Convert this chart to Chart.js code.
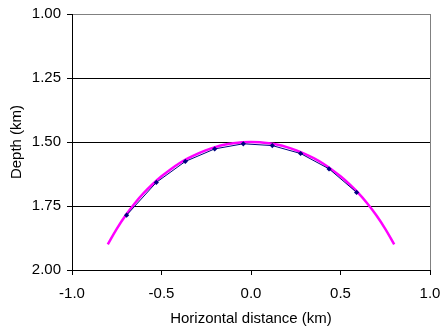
<!DOCTYPE html>
<html>
<head>
<meta charset="utf-8">
<script src="https://cdn.jsdelivr.net/npm/chart.js@4/dist/chart.umd.min.js"></script>
<style>
  html, body { margin: 0; padding: 0; background: #fff; }
  #wrap { width: 441px; height: 333px; }
</style>
</head>
<body>
<div id="wrap"><canvas id="chart" width="441" height="333"></canvas></div>
<script>
// picked points (blue, with markers)
const pickX = [-0.695, -0.529, -0.367, -0.203, -0.043, 0.119, 0.277, 0.436, 0.590];
const pickDepth = [1.786, 1.658, 1.576, 1.527, 1.507, 1.514, 1.545, 1.605, 1.697];

// model curve (magenta)
const modelX = [-0.8, -0.75, -0.7, -0.65, -0.6, -0.55, -0.5, -0.45, -0.4, -0.35, -0.3, -0.25, -0.2, -0.15, -0.1, -0.05,
  0, 0.05, 0.1, 0.15, 0.2, 0.25, 0.3, 0.35, 0.4, 0.45, 0.5, 0.55, 0.6, 0.65, 0.7, 0.75, 0.8];
const modelDepth = [1.900, 1.839, 1.786, 1.740, 1.700, 1.665, 1.634, 1.607, 1.583, 1.563, 1.546, 1.532, 1.520, 1.511, 1.505, 1.501,
  1.500, 1.501, 1.505, 1.511, 1.520, 1.532, 1.546, 1.563, 1.583, 1.607, 1.634, 1.665, 1.700, 1.740, 1.786, 1.839, 1.900];

const xTicks = [-1.0, -0.5, 0.0, 0.5, 1.0];
const yTicks = [1.00, 1.25, 1.50, 1.75, 2.00];

const pts = (xs, ys) => xs.map((x, i) => ({ x, y: ys[i] }));

const font = { family: "'Liberation Sans', Arial, sans-serif", size: 15 };

new Chart(document.getElementById("chart").getContext("2d"), {
  type: "scatter",
  data: {
    datasets: [
      {
        label: "Picks",
        data: pts(pickX, pickDepth),
        showLine: true,
        borderColor: "#000080",
        backgroundColor: "#000080",
        borderWidth: 1,
        pointStyle: "rectRot",
        pointRadius: 2.6,
        pointBorderWidth: 0,
      },
      {
        label: "Model",
        data: pts(modelX, modelDepth),
        showLine: true,
        borderColor: "#ff00ff",
        borderWidth: 2.5,
        pointRadius: 0,
        tension: 0.4,
      },
    ],
  },
  options: {
    responsive: false,
    animation: false,
    layout: { padding: { left: 0, right: 11, top: 14, bottom: 0 } },
    plugins: { legend: { display: false }, tooltip: { enabled: false } },
    scales: {
      x: {
        type: "linear",
        min: -1,
        max: 1,
        afterBuildTicks: (s) => { s.ticks = xTicks.map((v) => ({ value: v })); },
        afterFit: (s) => {
          s.height = 63;
          s.paddingLeft = 0;
          s.paddingRight = 0;
        },
        ticks: {
          color: "#000",
          font,
          padding: 10,
          maxRotation: 0,
          callback: (v) => Number(v).toFixed(1),
        },
        grid: {
          drawOnChartArea: true,
          color: (c) => (c.tick && c.tick.value === 1 ? "#808080" : "rgba(0,0,0,0)"),
          tickColor: "#000",
          tickLength: 5,
          lineWidth: 1,
        },
        border: { color: "#000", width: 1 },
        title: {
          display: true,
          text: "Horizontal distance (km)",
          color: "#000",
          font,
          padding: { top: 4, bottom: 5 },
        },
      },
      y: {
        type: "linear",
        reverse: true,
        min: 1,
        max: 2,
        afterBuildTicks: (s) => { s.ticks = yTicks.map((v) => ({ value: v })); },
        afterFit: (s) => {
          s.width = 72;
          s.paddingTop = 0;
          s.paddingBottom = 0;
        },
        ticks: {
          color: "#000",
          font,
          padding: 6,
          callback: (v) => Number(v).toFixed(2),
        },
        grid: {
          color: (c) => (c.tick && c.tick.value === 1 ? "#808080" : "#000"),
          tickColor: "#000",
          tickLength: 5,
          lineWidth: 1,
        },
        border: { color: "#000", width: 1 },
        title: {
          display: true,
          text: "Depth (km)",
          color: "#000",
          font,
          padding: { top: 8, bottom: 4 },
        },
      },
    },
  },
});
</script>
</body>
</html>
